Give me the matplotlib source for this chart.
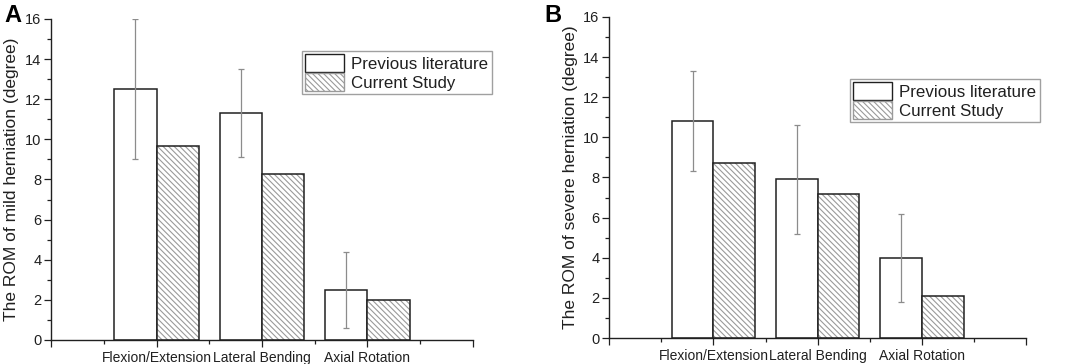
import matplotlib
matplotlib.use("Agg")
import matplotlib.pyplot as plt
import numpy as np
from matplotlib.patches import Patch
from matplotlib.ticker import FixedLocator, MultipleLocator

plt.rcParams["font.family"] = ["Liberation Sans", "DejaVu Sans"]
plt.rcParams["hatch.linewidth"] = 0.8

categories = ["Flexion/Extension", "Lateral Bending", "Axial Rotation"]

mild_previous = [12.5, 11.3, 2.5]
mild_previous_err = [3.5, 2.2, 1.9]
mild_current = [9.65, 8.25, 2.0]

severe_previous = [10.8, 7.9, 4.0]
severe_previous_err = [2.5, 2.7, 2.2]
severe_current = [8.7, 7.2, 2.1]

BAR_W = 0.4
HATCH_GRAY = "#9a9a9a"
HATCH = "\\" * 6


def draw_panel(ax, previous, err, current, ylabel):
    x = np.arange(1, len(categories) + 1)
    ax.bar(x - BAR_W / 2, previous, BAR_W, color="white",
           edgecolor="#202020", linewidth=1.1, zorder=2)
    # hatch drawn in gray, outline drawn separately in dark
    ax.bar(x + BAR_W / 2, current, BAR_W, color="white",
           edgecolor=HATCH_GRAY, hatch=HATCH, linewidth=0, zorder=2)
    ax.bar(x + BAR_W / 2, current, BAR_W, fill=False,
           edgecolor="#202020", linewidth=1.1, zorder=3)
    ax.errorbar(x - BAR_W / 2, previous, yerr=err, fmt="none",
                ecolor="#8c8c8c", elinewidth=0.9, capsize=2.5,
                capthick=0.9, zorder=4)

    ax.set_xlim(0, 4)
    ax.set_ylim(0, 16)
    ax.xaxis.set_major_locator(FixedLocator([0, 1, 2, 3, 4]))
    ax.xaxis.set_minor_locator(FixedLocator([0.5, 1.5, 2.5, 3.5]))
    ax.set_xticklabels(["", *categories, ""])
    ax.yaxis.set_major_locator(MultipleLocator(2))
    ax.yaxis.set_minor_locator(MultipleLocator(1))
    ax.tick_params(axis="both", which="major", direction="out", length=5,
                   width=0.9, pad=2, colors="#202020")
    ax.tick_params(axis="x", which="major", labelsize=10, pad=3)
    ax.tick_params(axis="y", which="major", labelsize=10.5)
    ax.tick_params(axis="both", which="minor", direction="out", length=3,
                   width=0.9, colors="#202020")
    for side in ("top", "right"):
        ax.spines[side].set_visible(False)
    for side in ("left", "bottom"):
        ax.spines[side].set_linewidth(1.0)
        ax.spines[side].set_color("#202020")
    ax.set_ylabel(ylabel, fontsize=12.5, labelpad=4, color="#202020")


fig = plt.figure(figsize=(10.65, 3.64), dpi=100)
ax_a = fig.add_axes([0.0479, 0.066, 0.3962, 0.882])
ax_b = fig.add_axes([0.572, 0.0714, 0.3915, 0.882])

draw_panel(ax_a, mild_previous, mild_previous_err, mild_current,
           "The ROM of mild herniation (degree)")
draw_panel(ax_b, severe_previous, severe_previous_err, severe_current,
           "The ROM of severe herniation (degree)")

handles = [
    Patch(facecolor="white", edgecolor="#202020", linewidth=1.0,
          label="Previous literature"),
    Patch(facecolor="white", edgecolor=HATCH_GRAY, hatch=HATCH,
          linewidth=1.0, label="Current Study"),
]
for ax, anchor in ((ax_a, (302 / 1065, 1 - 51 / 364)),
                   (ax_b, (850 / 1065, 1 - 79 / 364))):
    leg = fig.legend(handles=handles, loc="upper left",
                     bbox_to_anchor=anchor, fontsize=12.2, fancybox=False,
                     framealpha=1, edgecolor="#a0a0a0", borderpad=0.2,
                     handlelength=2.3, handleheight=1.2, handletextpad=0.4,
                     labelspacing=0.1, borderaxespad=0)
    leg.get_frame().set_linewidth(1.0)
    for t in leg.get_texts():
        t.set_color("#202020")

fig.text(4 / 1065, 1 - 16 / 364, "A", fontsize=17, fontweight="bold",
         va="center", ha="left")
fig.text(544 / 1065, 1 - 15 / 364, "B", fontsize=17, fontweight="bold",
         va="center", ha="left")

fig.savefig("out.png", dpi=100)
